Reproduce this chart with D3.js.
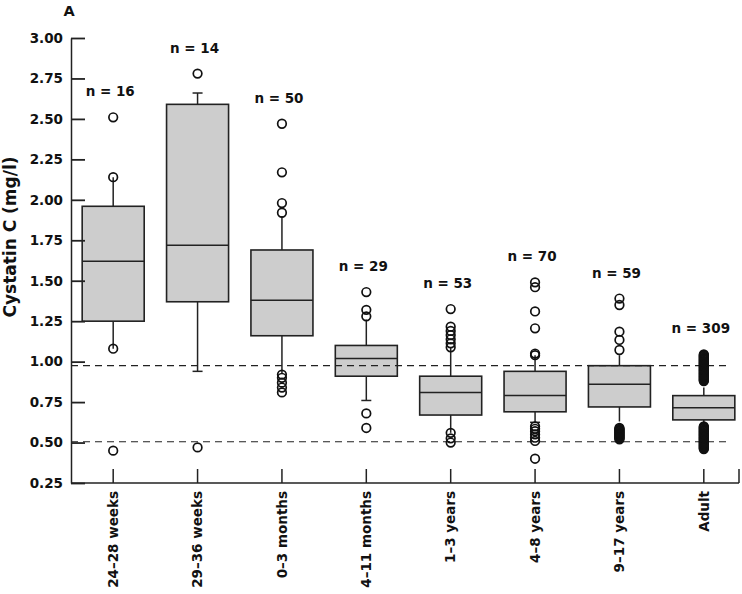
<!DOCTYPE html>
<html>
<head>
<meta charset="utf-8">
<script src="https://cdn.jsdelivr.net/npm/d3@7"></script>
<style>
  html, body { margin: 0; padding: 0; background: #fff; }
  svg { display: block; }
  text { font-family: "DejaVu Sans", sans-serif; font-weight: bold; fill: #111; }
</style>
</head>
<body>
<svg id="chart" width="742" height="594"></svg>
<script>
// ---------------- data ----------------
const categories = ["24\u201328 weeks", "29\u201336 weeks", "0\u20133 months", "4\u201311 months",
                    "1\u20133 years", "4\u20138 years", "9\u201317 years", "Adult"];
const nCounts    = [16, 14, 50, 29, 53, 70, 59, 309];
const q1         = [1.25, 1.37, 1.16, 0.91, 0.67, 0.69, 0.72, 0.64];
const medians    = [1.62, 1.72, 1.38, 1.02, 0.81, 0.79, 0.86, 0.715];
const q3         = [1.96, 2.59, 1.69, 1.10, 0.91, 0.94, 0.975, 0.79];
const whiskerLow = [1.08, 0.94, 0.93, 0.76, 0.56, 0.625, 0.63, 0.62];
const whiskerHigh= [2.14, 2.66, 1.90, 1.26, 1.09, 1.04, 1.04, 0.84];
const capLow     = [false, true, false, true, false, true, false, false];
const capHigh    = [false, true, false, false, false, false, false, false];
const outliers = [
  [2.51, 2.14, 1.08, 0.45],
  [2.78, 0.47],
  [2.47, 2.17, 1.98, 1.92, 0.92, 0.90, 0.87, 0.84, 0.81],
  [1.43, 1.32, 1.28, 0.68, 0.59],
  [1.325, 1.216, 1.19, 1.164, 1.138, 1.113, 1.089, 0.56, 0.526, 0.50],
  [1.49, 1.46, 1.31, 1.206, 1.05, 1.04, 0.60, 0.585, 0.57, 0.55, 0.53, 0.51, 0.40],
  [1.39, 1.35, 1.185, 1.134, 1.072, 0.59, 0.585, 0.58, 0.575, 0.57, 0.565, 0.56, 0.555, 0.55,
   0.545, 0.54, 0.535, 0.53, 0.525, 0.52],
  [1.045, 1.04, 1.035, 1.03, 1.025, 1.02, 1.015, 1.01, 1.005, 1.0, 0.995, 0.99, 0.985, 0.98,
   0.975, 0.97, 0.965, 0.96, 0.955, 0.95, 0.945, 0.94, 0.935, 0.93, 0.925, 0.92, 0.915, 0.91,
   0.905, 0.90, 0.895, 0.89, 0.885, 0.88,
   0.60, 0.595, 0.59, 0.585, 0.58, 0.575, 0.57, 0.565, 0.56, 0.555, 0.55, 0.545, 0.54, 0.535,
   0.53, 0.525, 0.52, 0.515, 0.51, 0.505, 0.50, 0.495, 0.49, 0.485, 0.48, 0.475, 0.47, 0.465, 0.46]
];
const yTicks = [0.25, 0.50, 0.75, 1.00, 1.25, 1.50, 1.75, 2.00, 2.25, 2.50, 2.75, 3.00];
const refLines = [0.975, 0.505];
const panelLabel = "A";
const yTitle = "Cystatin C (mg/l)";

// ---------------- layout ----------------
const mLeft = 71, mRight = 746, mTop = 38, mBottom = 483, axisRight = 739;
const svg = d3.select("#chart");
const y = d3.scaleLinear().domain([0.25, 3.0]).range([mBottom, mTop]);
const x = d3.scaleBand().domain(categories).range([mLeft, mRight]).paddingInner(0).paddingOuter(0);
const boxW = x.bandwidth() * 0.735;
const capW = 10;
const ink = "#222";

const rows = categories.map((c, i) => ({
  c, i, q1: q1[i], med: medians[i], q3: q3[i], lo: whiskerLow[i], hi: whiskerHigh[i],
  cl: capLow[i], ch: capHigh[i], out: outliers[i], n: nCounts[i]
}));
const cx = d => x(d.c) + x.bandwidth() / 2;

// whiskers
const g = svg.append("g");
rows.forEach(d => {
  const X = cx(d);
  g.append("line").attr("x1", X).attr("x2", X).attr("y1", y(d.q3)).attr("y2", y(d.hi))
    .attr("stroke", ink).attr("stroke-width", 1.5);
  g.append("line").attr("x1", X).attr("x2", X).attr("y1", y(d.q1)).attr("y2", y(d.lo))
    .attr("stroke", ink).attr("stroke-width", 1.5);
  if (d.ch) g.append("line").attr("x1", X - capW/2).attr("x2", X + capW/2)
    .attr("y1", y(d.hi)).attr("y2", y(d.hi)).attr("stroke", ink).attr("stroke-width", 1.5);
  if (d.cl) g.append("line").attr("x1", X - capW/2).attr("x2", X + capW/2)
    .attr("y1", y(d.lo)).attr("y2", y(d.lo)).attr("stroke", ink).attr("stroke-width", 1.5);
});

// boxes
g.selectAll("rect.box").data(rows).join("rect").attr("class", "box")
  .attr("x", d => cx(d) - boxW / 2).attr("width", boxW)
  .attr("y", d => y(d.q3)).attr("height", d => y(d.q1) - y(d.q3))
  .attr("fill", "#cdcdcd").attr("stroke", ink).attr("stroke-width", 1.6);
g.selectAll("line.med").data(rows).join("line").attr("class", "med")
  .attr("x1", d => cx(d) - boxW / 2).attr("x2", d => cx(d) + boxW / 2)
  .attr("y1", d => y(d.med)).attr("y2", d => y(d.med))
  .attr("stroke", ink).attr("stroke-width", 1.5);

// reference dashed lines
svg.selectAll("line.ref").data(refLines).join("line").attr("class", "ref")
  .attr("x1", mLeft).attr("x2", 730).attr("y1", d => y(d)).attr("y2", d => y(d))
  .attr("stroke", ink).attr("stroke-width", 1.2).attr("stroke-dasharray", "7,5");

// outliers
rows.forEach(d => {
  svg.append("g").selectAll("circle").data(d.out).join("circle")
    .attr("cx", cx(d)).attr("cy", v => y(v)).attr("r", 4.3)
    .attr("fill", "none").attr("stroke", "#111").attr("stroke-width", 1.7);
});

// n labels
svg.selectAll("text.n").data(rows).join("text").attr("class", "n")
  .attr("x", d => cx(d) - 3)
  .attr("y", d => y(Math.max(d.hi, d3.max(d.out))) - 21)
  .attr("text-anchor", "middle").style("font-size", "13.5px")
  .text(d => "n = " + d.n);

// y axis
const yAxis = svg.append("g").attr("transform", `translate(${mLeft},0)`)
  .call(d3.axisLeft(y).tickValues(yTicks).tickFormat(d3.format(".2f"))
        .tickSizeInner(-14).tickSizeOuter(0).tickPadding(8));
yAxis.select(".domain").attr("stroke", ink).attr("stroke-width", 1.5);
yAxis.selectAll(".tick line").attr("stroke", ink).attr("stroke-width", 1.8);
yAxis.selectAll(".tick text").style("font-size", "13.5px").style("font-family", "DejaVu Sans")
  .style("font-weight", "bold").attr("fill", "#111");

// x axis
const xAxis = svg.append("g").attr("transform", `translate(0,${mBottom})`)
  .call(d3.axisBottom(x).tickSizeInner(-14).tickSizeOuter(0));
xAxis.select(".domain").remove();
xAxis.selectAll(".tick line").attr("stroke", ink).attr("stroke-width", 1.5);
xAxis.selectAll(".tick text")
  .attr("transform", "rotate(-90)").attr("x", -8).attr("y", 0).attr("dy", "0.35em")
  .style("text-anchor", "end").style("font-size", "13.5px").style("font-family", "DejaVu Sans")
  .style("font-weight", "bold").attr("fill", "#111");
xAxis.append("line").attr("x1", mLeft).attr("x2", axisRight).attr("y1", 0).attr("y2", 0)
  .attr("stroke", ink).attr("stroke-width", 1.5);
xAxis.append("line").attr("x1", axisRight).attr("x2", axisRight).attr("y1", 0).attr("y2", -14)
  .attr("stroke", ink).attr("stroke-width", 1.5);

// titles
svg.append("text").attr("transform", "translate(15.5,237) rotate(-90)")
  .attr("text-anchor", "middle").style("font-size", "17px").text(yTitle);
svg.append("text").attr("x", 69).attr("y", 15.5).attr("text-anchor", "middle")
  .style("font-size", "14.5px").text(panelLabel);
</script>
</body>
</html>
